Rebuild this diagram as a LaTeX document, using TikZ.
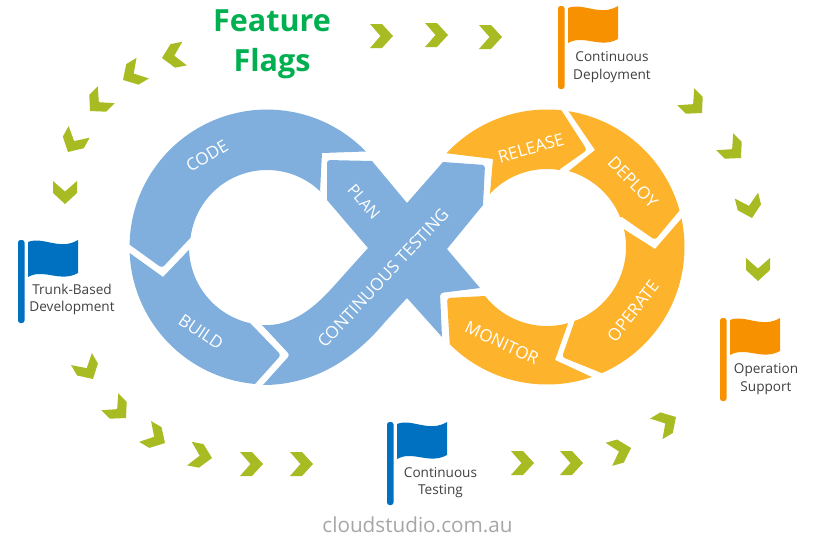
\documentclass[tikz,border=0pt]{standalone}
\usepackage{fontspec}
\setmainfont{Open Sans}
\definecolor{loopblue}{HTML}{80AFDD}
\definecolor{looporange}{HTML}{FDB32C}
\definecolor{flagblue}{HTML}{0070C0}
\definecolor{flagorange}{HTML}{F79100}
\definecolor{chevgreen}{HTML}{A8BB23}
\definecolor{titlegreen}{HTML}{00B050}
\definecolor{captiongray}{HTML}{404040}
\definecolor{footgray}{HTML}{A6A6A6}
% circular arc about a centre: cx, cy, radius, start angle, end angle
\newcommand\ringarc[5]{plot[domain=#4:#5,samples=40] ({#1+#3*cos(\x)},{#2+#3*sin(\x)})}
\newcommand\ringline[5]{-- plot[domain=#4:#5,samples=40] ({#1+#3*cos(\x)},{#2+#3*sin(\x)})}
\tikzset{
  chevron/.pic={\fill[chevgreen] (-23,-12) -- (-11,-12) -- (0,0) -- (-11,12) -- (-23,12) -- (-12.5,0) -- cycle;},
  flagicon/.pic={
    \fill[#1,rounded corners=2.5] (0,0) rectangle (6.5,83);
    \fill[#1] (10,2) .. controls (25,-4) and (42,11) .. (60,0) -- (60,33)
      .. controls (42,43) and (26,28) .. (10,37) -- cycle;
  },
  caption/.style={text=captiongray,font=\fontsize{13.6}{17.5}\selectfont,align=center},
  stage/.style={text=white,font=\fontsize{17}{17}\selectfont},
  bluepart/.style={fill=loopblue},
  orangepart/.style={fill=looporange},
}
\begin{document}
\begin{tikzpicture}[x=1pt,y=-1pt]
\path[use as bounding box] (0,0) rectangle (817,539);

% blue loop
\fill[bluepart] \ringarc{267}{247}{137.5}{181}{316} -- (322,153) -- (320,192)
  \ringline{267}{247}{77}{314}{187} [rounded corners=3] -- (162,268) [sharp corners] -- cycle;
\fill[bluepart] \ringarc{267}{247}{137.5}{177.5}{95} [rounded corners=3] -- (281,355) [sharp corners] -- (250,323)
  \ringline{267}{247}{78}{102.6}{178} -- (163,277) -- cycle;
\fill[bluepart] (263,385) [rounded corners=3] -- (290,355) [sharp corners] -- (262,325)
  .. controls (292,327) and (315,307) .. (333,287) -- (368,248) -- (327,200)
  [rounded corners=3] -- (327,160) [sharp corners] -- (372,161) -- (407,203) -- (443,162)
  [rounded corners=3] -- (485,165) [sharp corners] -- (483,205) -- (447,249) -- (480,288)
  [rounded corners=3] -- (440,293) [sharp corners] -- (442,337) -- (407,298) -- (385,322)
  .. controls (355,358) and (315,385) .. (263,385) -- cycle;

% orange loop
\fill[orangepart] \ringarc{547}{247}{137.5}{223}{276} [rounded corners=3] -- (587,150) [sharp corners] -- (560,169)
  \ringline{547}{247}{78}{280}{223} -- (493,159) -- cycle;
\fill[orangepart] \ringarc{547}{247}{137.5}{279}{344.6} [rounded corners=3] -- (655,240) [sharp corners] -- (622,217)
  \ringline{547}{247}{79}{338}{286} -- (595,150) -- cycle;
\fill[orangepart] \ringarc{547}{247}{137.5}{-12}{66.5} [rounded corners=3] -- (562,357) [sharp corners] -- (575,320)
  \ringline{547}{247}{79}{69}{-13} -- (655,249) -- cycle;
\fill[orangepart] \ringarc{547}{247}{137.5}{71}{135} [rounded corners=3] -- (447,298) [sharp corners] -- (485,296)
  \ringline{547}{247}{79}{141.7}{74.5} -- (555,360) -- cycle;

% stage names
\node[stage,rotate=31] (code) at (207,156) {CODE};
\node[stage,rotate=-34] (build) at (201,332) {BUILD};
\node[stage,rotate=-49,font=\fontsize{16}{16}\selectfont] (plan) at (364,202) {PLAN};
\node[stage,rotate=47] (ct) at (383,278) {CONTINUOUS TESTING};
\node[stage,rotate=16] (release) at (531,148) {RELEASE};
\node[stage,rotate=-46] (deployname) at (633,182) {DEPLOY};
\node[stage,rotate=52] (operate) at (633,311) {OPERATE};
\node[stage,rotate=-25] (monitor) at (502,343) {MONITOR};

% milestone flags
\pic at (18,240) {flagicon=flagblue};
\pic at (558,6) {flagicon=flagorange};
\pic at (720,318) {flagicon=flagorange};
\pic at (387,422) {flagicon=flagblue};
\node[caption] (trunk) at (72,299.5) {Trunk-Based\\Development};
\node[caption] (deploy) at (612,67) {Continuous\\Deployment};
\node[caption] (support) at (766,379) {Operation\\Support};
\node[caption] (testing) at (440.5,482.5) {Continuous\\Testing};

% chevrons around the outside, each given by its tip and heading
\foreach \px/\py/\turn in {
  65/204/90, 68/152/119, 90/111/135, 123/80/149, 162/58/169,
  393/36/0, 448/35/0, 502/37/0,
  702/113/45, 741/158/45, 752/218/76, 758/281/90,
  93/379/60, 126/418/45, 165/443/30, 212/458/11, 263/464/0, 313/464/0,
  534/463/0, 583/463/0, 631/448/-16, 676/417/-31}
  \pic[rotate=-\turn] at (\px,\py) {chevron};

% headings
\node[text=titlegreen,font=\fontsize{30.5}{40}\selectfont\bfseries,align=center] (title) at (272,44) {Feature\\Flags};
\node[text=footgray,font=\fontsize{20.7}{24}\selectfont] (site) at (417.5,525) {cloudstudio.com.au};
\end{tikzpicture}
\end{document}
